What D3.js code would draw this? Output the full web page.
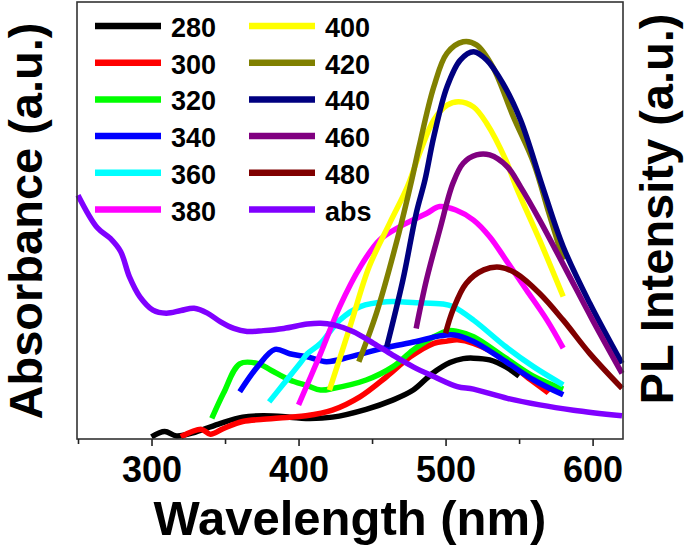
<!DOCTYPE html>
<html>
<head>
<meta charset="utf-8">
<script src="https://cdn.jsdelivr.net/npm/d3@7"></script>
<style>
  html, body { margin: 0; padding: 0; background: #fff; }
  svg { display: block; }
</style>
</head>
<body>
<svg id="chart" width="685" height="546"></svg>
<script>
// ---------- data (wavelength nm, intensity a.u.) ----------
const xTicks = [300, 400, 500, 600];
const xMinorTicks = [250, 350, 450, 550];
const seriesNames = ["280", "300", "320", "340", "360", "380", "400", "420", "440", "460", "480", "abs"];
const seriesColors = ["#000000", "#ff0000", "#00ff00", "#0000ff", "#00ffff", "#ff00ff",
                      "#ffff00", "#808000", "#000080", "#800080", "#800000", "#8000ff"];

const s280 = [[300,0.5],[309,1.7],[317,0.7],[330,1.6],[347,3.6],[362,5.0],[376,5.3],[394,5.0],[405,4.7],
  [423,5.0],[446,6.8],[464,8.9],[478,11.2],[491,15.0],[503,17.5],[512,18.4],[519,18.5],[530,18.1],[541,16.5],[550,14.4]];
const s300 = [[320,0.5],[334,2.2],[340,1.1],[349,2.4],[362,4.0],[376,4.5],[394,5.0],[405,5.3],
  [423,6.6],[442,9.7],[460,14.3],[476,18.8],[492,21.9],[501,22.4],[508,22.7],[519,21.9],[541,18.1],[555,14.3],[569,10.8],[570,10.5]];
const s320 = [[341,4.7],[349,10.5],[360,17.2],[372,17.3],[381,15.8],[394,13.5],[406,12.2],[415,11.2],[424,11.6],
  [446,13.5],[464,16.5],[478,20.4],[492,23.4],[502,24.8],[508,24.6],[519,23.4],[541,18.5],[560,14.3],[580,11.4]];
const s340 = [[360,10.8],[372,16.5],[384,20.5],[394,19.5],[406,18.8],[419,17.7],[435,18.8],[458,20.8],[480,22.3],
  [496,23.6],[506,23.8],[519,22.3],[541,17.7],[560,13.5],[580,10.1]];
const s360 = [[380,8.5],[390,12.7],[401,17.3],[406,19.5],[415,21.9],[428,27.2],[442,30.3],[460,31.4],[480,31.2],
  [498,30.9],[505,30.3],[519,27.2],[541,21.1],[560,16.5],[580,12.4]];
const s380 = [[400,7.8],[415,19.6],[428,30.3],[442,39.4],[455,45.5],[469,48.6],[487,51.6],[496,53.2],[507,52.4],
  [519,50.1],[530,46.3],[541,41.0],[555,34.1],[569,27.2],[580,20.8]];
const s400 = [[421,11.2],[435,25.7],[448,39.4],[462,49.4],[474,57.7],[483,66.0],[492,73.0],[501,76.4],[509,77.2],
  [519,76.0],[528,72.2],[541,63.8],[548,57.7],[564,45.5],[580,32.6]];
const s420 = [[441,17.7],[453,28.8],[467,45.5],[477,59.3],[482,66.9],[492,80.6],[501,88.3],[512,90.9],[521,90.2],
  [532,85.2],[546,73.8],[560,63.1],[570,52.0],[580,41.0]];
const s440 = [[460,21.1],[471,36.4],[480,51.6],[486,59.3],[492,69.2],[501,80.6],[510,86.7],[519,88.6],[528,86.7],
  [539,81.4],[551,73.0],[566,57.7],[580,44.0],[598,31.1],[620,17.3]];
const s460 = [[480,25.3],[487,36.4],[496,47.8],[505,58.5],[512,63.1],[521,65.0],[530,65.0],[542,62.3],[551,57.7],
  [564,50.1],[582,38.7],[600,27.2],[620,15.0]];
const s480 = [[500,24.2],[505,29.5],[514,35.6],[526,38.7],[537,39.3],[548,37.9],[564,33.3],[580,27.2],[598,19.6],[620,11.6]];
const sAbs = [[250,55.8],[263,48.4],[272,45.9],[279,42.9],[285,37.1],[292,32.6],[301,29.5],[310,28.8],[320,29.4],
  [329,29.9],[338,28.8],[347,26.8],[356,25.3],[365,24.6],[376,24.8],[390,25.3],[406,26.3],[415,26.5],[424,26.1],
  [437,24.6],[451,21.9],[464,19.2],[478,16.5],[492,14.3],[508,12.0],[519,11.4],[542,9.3],[564,7.8],[587,6.6],[620,5.3]];
const seriesData = [s280, s300, s320, s340, s360, s380, s400, s420, s440, s460, s480, sAbs];

// ---------- layout ----------
const svg = d3.select("#chart");
const mLeft = 78, mRight = 622, mTop = 2, mBottom = 439;
const x = d3.scaleLinear().domain([250, 620]).range([mLeft, mRight]);
const y = d3.scaleLinear().domain([0, 100]).range([mBottom, mTop]);
const font = "'Liberation Sans', Arial, sans-serif";

// curves
const line = d3.line().x(d => x(d[0])).y(d => y(d[1])).curve(d3.curveCatmullRom.alpha(0.5));
const plot = svg.append("g");
seriesData.forEach((s, i) => {
  plot.append("path").datum(s)
    .attr("d", line)
    .attr("fill", "none")
    .attr("stroke", seriesColors[i])
    .attr("stroke-width", 5.5)
    .attr("stroke-linejoin", "round")
    .attr("stroke-linecap", "butt");
});

// frame
svg.append("rect")
  .attr("x", mLeft - 1).attr("y", mTop).attr("width", mRight - mLeft + 2).attr("height", mBottom - mTop)
  .attr("fill", "none").attr("stroke", "#333").attr("stroke-width", 1.6);

// x axis
const xAxis = d3.axisBottom(x).tickValues(xTicks).tickSize(7).tickSizeOuter(0).tickPadding(10);
const ax = svg.append("g").attr("transform", `translate(0,${mBottom})`).call(xAxis);
ax.select(".domain").remove();
ax.selectAll(".tick line").attr("stroke", "#222").attr("stroke-width", 1.6);
ax.selectAll(".tick text").attr("font-family", font).attr("font-weight", "bold")
  .attr("font-size", 36).attr("fill", "#000").attr("dy", "0.71em");
const minor = d3.axisBottom(x).tickValues(xMinorTicks).tickSize(5).tickSizeOuter(0).tickFormat("");
const mx = svg.append("g").attr("transform", `translate(0,${mBottom})`).call(minor);
mx.select(".domain").remove();
mx.selectAll(".tick line").attr("stroke", "#222").attr("stroke-width", 1.6);

// axis titles
svg.append("text").attr("x", 350).attr("y", 535).attr("text-anchor", "middle")
  .attr("font-family", font).attr("font-weight", "bold").attr("font-size", 49).text("Wavelength (nm)");
svg.append("text").attr("transform", "translate(42,221) rotate(-90)").attr("text-anchor", "middle")
  .attr("font-family", font).attr("font-weight", "bold").attr("font-size", 47).text("Absorbance (a.u.)");
svg.append("text").attr("transform", "translate(673,209) rotate(-90)").attr("text-anchor", "middle")
  .attr("font-family", font).attr("font-weight", "bold").attr("font-size", 47).text("PL Intensity (a.u.)");

// legend
const legend = svg.append("g");
seriesNames.forEach((name, i) => {
  const col = Math.floor(i / 6), row = i % 6;
  const lx = col === 0 ? 95 : 249;
  const cy = 26 + row * 36.7;
  legend.append("line").attr("x1", lx).attr("x2", lx + 66).attr("y1", cy).attr("y2", cy)
    .attr("stroke", seriesColors[i]).attr("stroke-width", 6.5);
  legend.append("text").attr("x", lx + 76).attr("y", cy + 11)
    .attr("font-family", font).attr("font-weight", "bold").attr("font-size", 27).text(name);
});
</script>
</body>
</html>
